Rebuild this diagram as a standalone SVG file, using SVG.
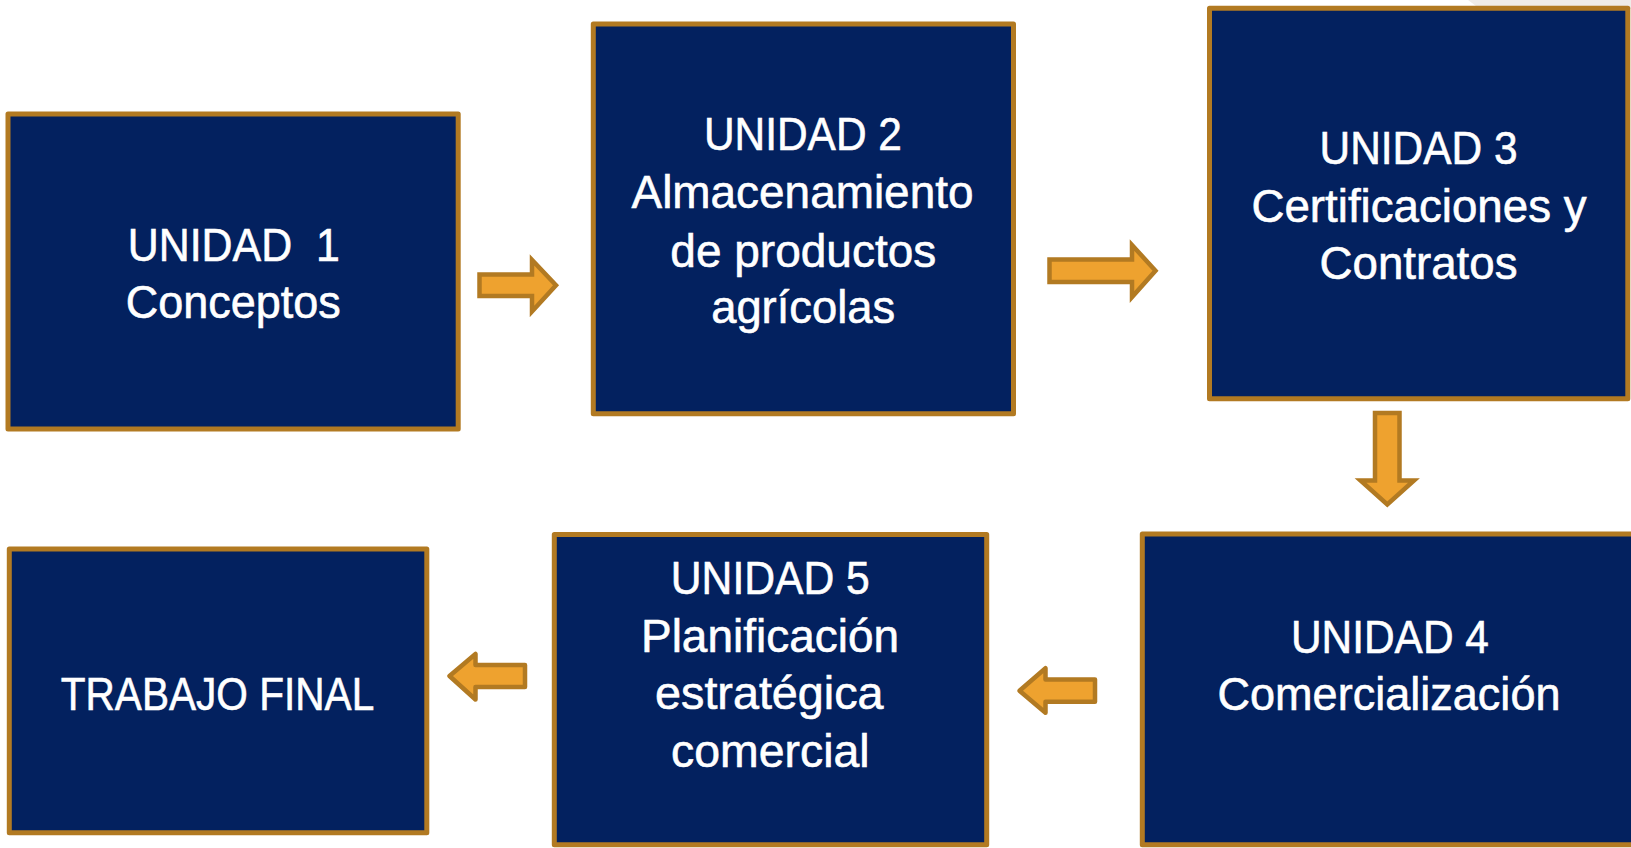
<svg xmlns="http://www.w3.org/2000/svg" width="1631" height="848" viewBox="0 0 1631 848">
<style>
.box{fill:#03215F;stroke:#B27A22;stroke-width:5;stroke-linejoin:round}
.t{font-family:"Liberation Sans",Arial,sans-serif;font-size:47px;fill:#FFFFFF;stroke:#FFFFFF;stroke-width:0.6;text-anchor:middle;white-space:pre}
.arr{fill:#EEA22F;stroke:#B27A22;stroke-width:4.5;stroke-linejoin:miter}
.arrl{fill:#EEA22F;stroke:#B27A22;stroke-width:4.5;stroke-linejoin:round}
</style>
<rect x="0" y="0" width="1631" height="848" fill="#FFFFFF"/>
<polygon points="1468,0 1631,0 1631,9 1480,9" fill="#EFECE8"/>

<g id="connectors">
<path class="arr" d="M479.5,274.5 H532 V260 L556,285.3 L532,311.5 V296 H479.5 Z"/>
<path class="arr" d="M1049.5,259.5 H1132 V245 L1155.5,270.8 L1132,297 V282 H1049.5 Z"/>
<path class="arr" d="M1375,413 H1399.5 V480.5 H1414 L1387.3,504.5 L1360.5,480.5 H1375 Z"/>
<path class="arrl" d="M1095,679.5 V701.8 H1045.5 V712.8 L1019.5,690.7 L1045.5,668.2 V679.5 Z"/>
<path class="arrl" d="M525,665 V687 H475.5 V699.5 L449.5,676 L475.5,654 V665 Z"/>
</g>

<g id="unidad1">
<rect class="box" x="8" y="114" width="450.2" height="315"/>
<text class="t" x="233.8" y="261" textLength="212" lengthAdjust="spacingAndGlyphs">UNIDAD  1</text>
<text class="t" x="233.3" y="318.3" textLength="215" lengthAdjust="spacingAndGlyphs">Conceptos</text>
</g>

<g id="unidad2">
<rect class="box" x="593.3" y="24" width="420.2" height="389.8"/>
<text class="t" x="802.9" y="150" textLength="198" lengthAdjust="spacingAndGlyphs">UNIDAD 2</text>
<text class="t" x="802.5" y="208.3" textLength="342" lengthAdjust="spacingAndGlyphs">Almacenamiento</text>
<text class="t" x="803.3" y="266.7" textLength="266" lengthAdjust="spacingAndGlyphs">de productos</text>
<text class="t" x="803.2" y="323.3" textLength="184" lengthAdjust="spacingAndGlyphs">agrícolas</text>
</g>

<g id="unidad3">
<rect class="box" x="1209.5" y="8.3" width="418.3" height="390.5"/>
<text class="t" x="1418.5" y="164.3" textLength="198" lengthAdjust="spacingAndGlyphs">UNIDAD 3</text>
<text class="t" x="1419" y="221.7" textLength="335" lengthAdjust="spacingAndGlyphs">Certificaciones y</text>
<text class="t" x="1418.5" y="279.3" textLength="198" lengthAdjust="spacingAndGlyphs">Contratos</text>
</g>

<g id="unidad4">
<rect class="box" x="1142.3" y="534" width="520" height="310.7"/>
<text class="t" x="1389.9" y="653.3" textLength="198" lengthAdjust="spacingAndGlyphs">UNIDAD 4</text>
<text class="t" x="1389" y="710" textLength="343" lengthAdjust="spacingAndGlyphs">Comercialización</text>
</g>

<g id="unidad5">
<rect class="box" x="554.3" y="534.5" width="432.4" height="310.2"/>
<text class="t" x="770.3" y="594" textLength="199" lengthAdjust="spacingAndGlyphs">UNIDAD 5</text>
<text class="t" x="770" y="651.7" textLength="258" lengthAdjust="spacingAndGlyphs">Planificación</text>
<text class="t" x="769.3" y="709.3" textLength="228.5" lengthAdjust="spacingAndGlyphs">estratégica</text>
<text class="t" x="770.3" y="766.7" textLength="198.5" lengthAdjust="spacingAndGlyphs">comercial</text>
</g>

<g id="trabajo-final">
<rect class="box" x="9.3" y="549" width="417.5" height="283.7"/>
<text class="t" x="217.5" y="710" textLength="313.5" lengthAdjust="spacingAndGlyphs">TRABAJO FINAL</text>
</g>
</svg>
